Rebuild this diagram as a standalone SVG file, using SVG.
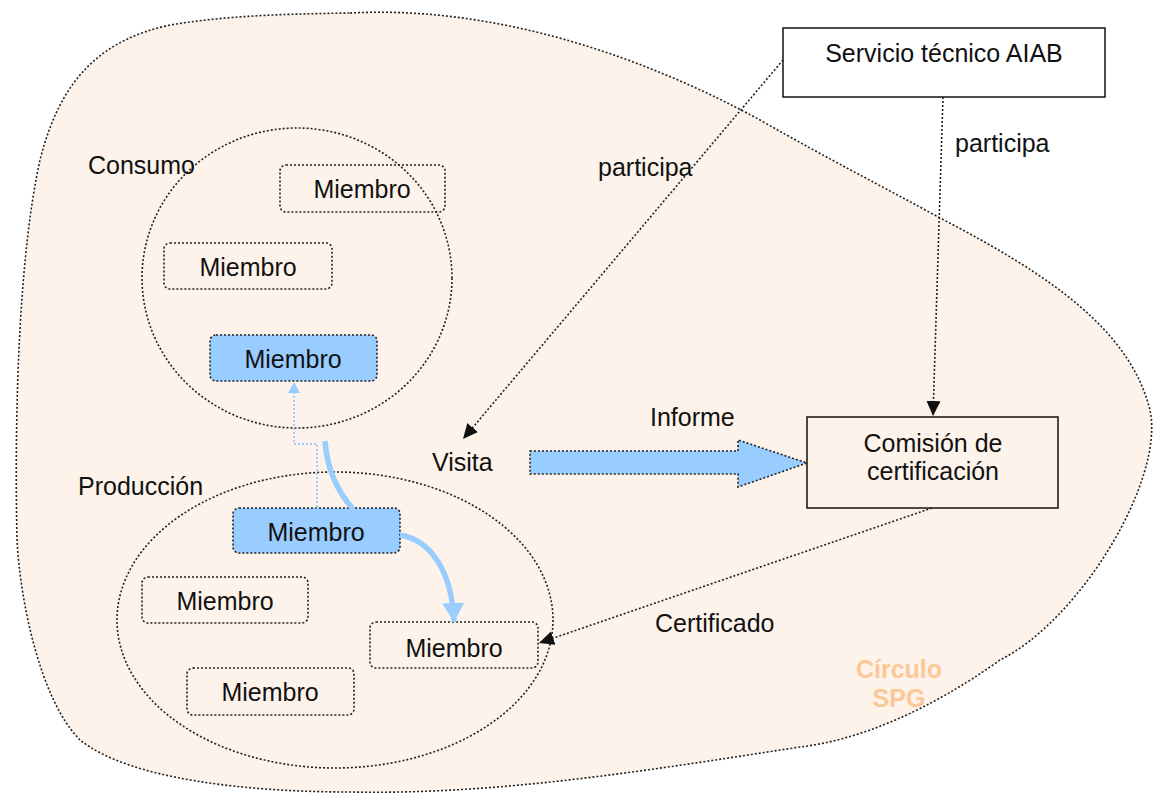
<svg xmlns="http://www.w3.org/2000/svg" width="1163" height="796" viewBox="0 0 1163 796">
<style>
text{font-family:"Liberation Sans",Arial,sans-serif;font-size:25px;fill:#111}
.dot{fill:none;stroke:#222;stroke-width:1.6;stroke-dasharray:2 2}
.box{fill:none;stroke:#222;stroke-width:1.6;stroke-dasharray:2 2}
.blue{fill:#99ccff;stroke:#222;stroke-width:1.6;stroke-dasharray:2 2}
.solid{fill:#fff;stroke:#111;stroke-width:1.5}
.mid{text-anchor:middle}
</style>
<defs>
<marker id="ah" markerUnits="userSpaceOnUse" markerWidth="16" markerHeight="14" refX="15" refY="7" orient="auto">
<path d="M0,0 L15,7 L0,14 Z" fill="#111"/>
</marker>
<marker id="bh" markerUnits="userSpaceOnUse" markerWidth="12" markerHeight="12" refX="11" refY="6" orient="auto">
<path d="M0,0 L11,6 L0,12 Z" fill="#99ccff"/>
</marker>
<marker id="bh2" markerUnits="userSpaceOnUse" markerWidth="20" markerHeight="22" refX="19" refY="11" orient="auto">
<path d="M0,0 L19,11 L0,22 Z" fill="#99ccff"/>
</marker>
</defs>
<rect width="1163" height="796" fill="#fff"/>
<g id="circulo-spg">
<path d="M350,13 C500,5 650,60 760,120 C830,160 880,185 940,218 C1050,275 1130,330 1150,410 C1165,480 1080,620 1000,660 C930,710 860,740 800,747 C650,770 500,795 350,792 C250,792 130,780 80,740 C40,700 20,600 17,540 C14,400 20,250 40,160 C60,80 100,40 170,25 C230,15 290,14 350,13 Z" fill="#fdf3ea" stroke="#222" stroke-width="1.6" stroke-dasharray="2 2"/>
<text x="899" y="678" class="mid" style="font-weight:bold;fill:#fcc898">Círculo</text>
<text x="899" y="707" class="mid" style="font-weight:bold;fill:#fcc898">SPG</text>
</g>
<g id="consumo">
<ellipse cx="297" cy="278" rx="155" ry="150" class="dot"/>
<text x="88" y="174">Consumo</text>
</g>
<g id="produccion">
<ellipse cx="335" cy="620" rx="218" ry="148" class="dot"/>
<text x="78" y="495">Producción</text>
</g>
<g id="c-miembro1">
<rect x="280" y="165" width="165" height="47" rx="6" class="box"/>
<text x="362" y="198" class="mid">Miembro</text>
</g>
<g id="c-miembro2">
<rect x="164" y="243" width="168" height="46" rx="6" class="box"/>
<text x="248" y="276" class="mid">Miembro</text>
</g>
<g id="c-miembro3">
<rect x="210" y="335" width="167" height="46" rx="6" class="blue"/>
<text x="293" y="368" class="mid">Miembro</text>
</g>
<g id="p-miembro1">
<rect x="233" y="508" width="167" height="45" rx="6" class="blue"/>
<text x="316" y="541" class="mid">Miembro</text>
</g>
<g id="p-miembro2">
<rect x="142" y="577" width="166" height="46" rx="6" class="box"/>
<text x="225" y="610" class="mid">Miembro</text>
</g>
<g id="p-miembro3">
<rect x="187" y="668" width="167" height="47" rx="6" class="box"/>
<text x="270" y="701" class="mid">Miembro</text>
</g>
<g id="p-miembro4">
<rect x="370" y="622" width="168" height="46" rx="6" class="box"/>
<text x="454" y="657" class="mid">Miembro</text>
</g>
<g id="servicio">
<rect x="783" y="28" width="322" height="69" class="solid"/>
<text x="944" y="62" class="mid">Servicio técnico AIAB</text>
</g>
<g id="comision">
<rect x="807" y="417" width="251" height="91" fill="none" stroke="#111" stroke-width="1.5"/>
<text x="933" y="452" class="mid">Comisión de</text>
<text x="933" y="480" class="mid">certificación</text>
</g>
<g id="visita">
<text x="432" y="471">Visita</text>
</g>
<g id="connectors">
<line x1="783" y1="60" x2="463" y2="439" class="dot" marker-end="url(#ah)"/>
<text x="598" y="176">participa</text>
<line x1="943" y1="97" x2="933" y2="416" class="dot" marker-end="url(#ah)"/>
<text x="955" y="152">participa</text>
<line x1="932" y1="508" x2="539" y2="643" class="dot" marker-end="url(#ah)"/>
<text x="655" y="632">Certificado</text>
<path d="M530,451 L738,451 L738,440 L807,463 L738,487 L738,474 L530,474 Z" class="blue"/>
<text x="650" y="426">Informe</text>
<path d="M317,507 L317,444 L294,444 L294,382" fill="none" stroke="#99ccff" stroke-width="1.8" stroke-dasharray="2 2" marker-start="url(#bh)" marker-end="url(#bh)"/>
<path d="M325,441 C327,470 338,492 353,509" fill="none" stroke="#99ccff" stroke-width="5.5"/>
<path d="M400,535 C430,540 452,570 454,622" fill="none" stroke="#99ccff" stroke-width="5.5" marker-end="url(#bh2)"/>
</g>
</svg>
